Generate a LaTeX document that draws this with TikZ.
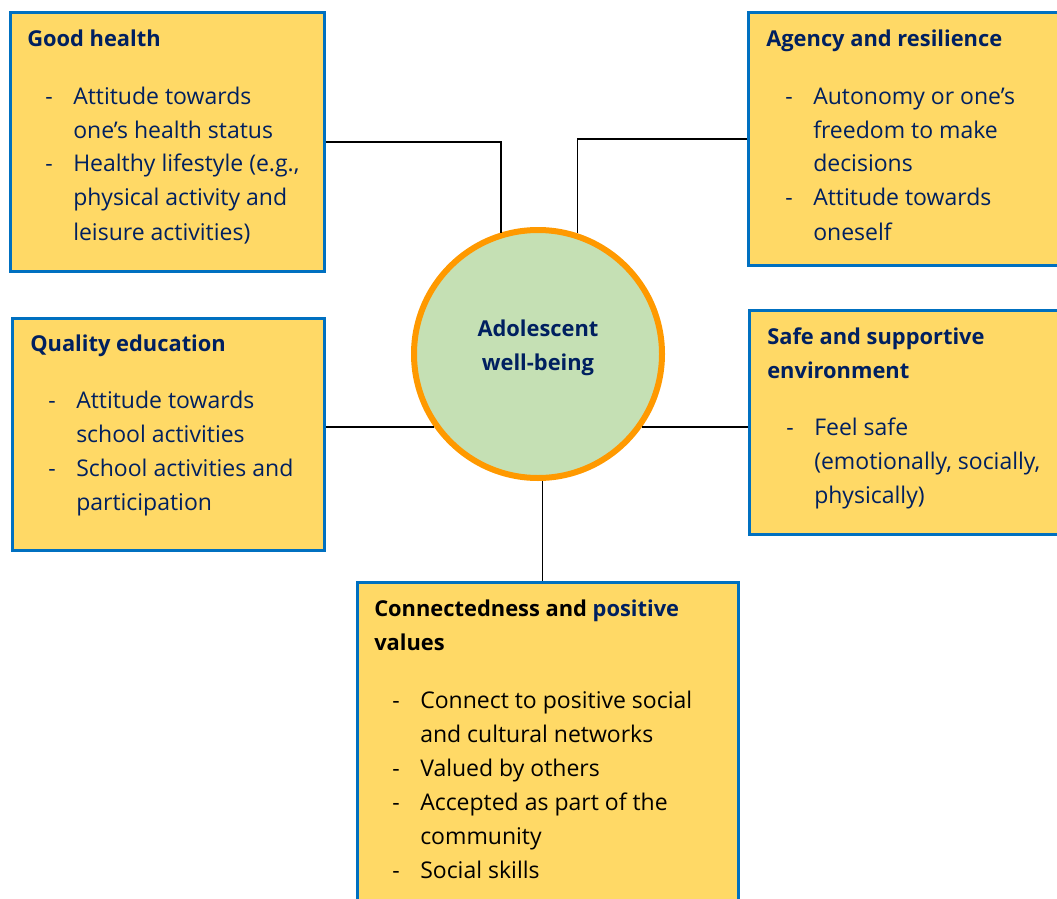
\documentclass[tikz,border=0pt]{standalone}
\usepackage{fontspec}
\setmainfont{Open Sans}
\usetikzlibrary{positioning}
\definecolor{navy}{HTML}{002060}
\definecolor{boxfill}{HTML}{FFD966}
\definecolor{boxline}{HTML}{0070C0}
\definecolor{hubfill}{HTML}{C5E0B4}
\definecolor{hubline}{HTML}{FF9900}
\tikzset{
box/.style={rectangle, draw=boxline, fill=boxfill, line width=2.25pt}, % the yellow boxes
hub/.style={circle, draw=hubline, fill=hubfill, line width=4.5pt, minimum size=186pt},
head/.style={anchor=base west, inner sep=0pt, text=navy, font=\bfseries\fontsize{16.4}{25.5}\selectfont},
items/.style={anchor=base west, inner sep=0pt, text=navy, font=\fontsize{17.25}{25.5}\selectfont},
link/.style={draw=black, line width=1.1pt},
}
\newcommand{\dashlist}[1]{\begin{tabular}[t]{@{}p{21pt}@{}l@{}}#1\end{tabular}}
\newcommand{\twolines}[2]{\begin{tabular}[t]{@{}l@{}}#1\\#2\end{tabular}}

\begin{document}
\begin{tikzpicture}[x=0.75pt,y=-0.75pt]%pixel grid of the page
  \useasboundingbox (0,0) rectangle (1057,899);

  \node[box, minimum width=235.5pt, minimum height=193.5pt] (gh) at (167,142) {};
  \node[box, minimum width=235.5pt, minimum height=189pt] (ag) at (905,139) {};
  \node[box, minimum width=234pt, minimum height=174pt] (qe) at (168,434) {};
  \node[box, minimum width=235.5pt, minimum height=168pt] (sf) at (906,422) {};
  \node[box, minimum width=285.75pt, minimum height=246pt] (cv) at (547.5,746) {};
  \node[hub] (wb) at (538,354) {};
  \node[head, anchor=center, align=center] (wb-t) at (538,348) {Adolescent\\well-being};

  \node[head] (gh-t) at (27,47) {Good health};
  \node[items] (gh-l) at (45,104) {\dashlist{
    - & Attitude towards\\
      & one’s health status\\
    - & Healthy lifestyle (e.g.,\\
      & physical activity and\\
      & leisure activities)}};

  \node[head] (ag-t) at (766,47) {Agency and resilience};
  \node[items] (ag-l) at (785,104) {\dashlist{
    - & Autonomy or one’s\\
      & freedom to make\\
      & decisions\\
    - & Attitude towards\\
      & oneself}};

  \node[head] (qe-t) at (30,351) {Quality education};
  \node[items] (qe-l) at (48,408) {\dashlist{
    - & Attitude towards\\
      & school activities\\
    - & School activities and\\
      & participation}};

  \node[head] (sf-t) at (767,344) {\twolines{Safe and supportive}{environment}};
  \node[items] (sf-l) at (786,435) {\dashlist{
    - & Feel safe\\
      & (emotionally, socially,\\
      & physically)}};

  \node[head, text=black] (cv-t) at (374,616) {\twolines{Connectedness and \textcolor{navy}{positive}}{values}};
  \node[items, text=black] (cv-l) at (392,708) {\dashlist{
    - & Connect to positive social\\
      & and cultural networks\\
    - & Valued by others\\
    - & Accepted as part of the\\
      & community\\
    - & Social skills}};

  \path[link]
  (gh.east) -| (wb.107)
  (ag.west) -| (wb.72)
  (wb.215) -- (wb.215 -| qe.east)
  (wb.325) -- (wb.325 -| sf.west)
  (wb.272) -- (wb.272 |- cv.north);
\end{tikzpicture}
\end{document}
